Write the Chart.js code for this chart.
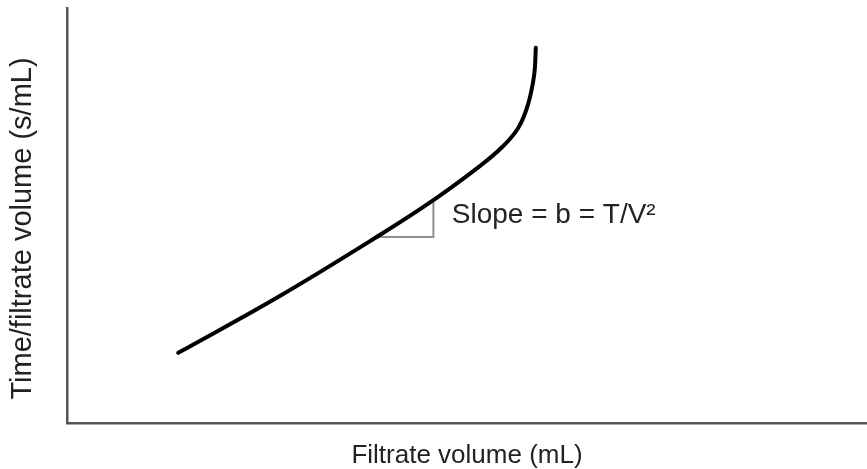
<!DOCTYPE html>
<html>
<head>
<meta charset="utf-8">
<title>Filtration plot</title>
<script src="https://cdn.jsdelivr.net/npm/chart.js@4.4.1/dist/chart.umd.min.js"></script>
<style>
  html, body { margin: 0; padding: 0; background: #fff; }
  #wrap { width: 867px; height: 469px; position: relative; }
</style>
</head>
<body>
<div id="wrap"><canvas id="chart"></canvas></div>
<script>
// t/V against V curve (arbitrary units, axes carry no ticks)
const volume = [1.39, 2.66, 3.91, 4.58, 5.16, 5.44, 5.64, 5.76, 5.84, 5.86]
const timePerVolume = [1.69, 3.06, 4.53, 5.37, 6.19, 6.65, 7.11, 7.66, 8.39, 9.04]

// slope triangle under the straight part
const triangleX = [3.91, 4.58, 4.58]
const triangleY = [4.48, 4.48, 5.37]

const slopeLabel = 'Slope = b = T/V\u00B2'
const slopeLabelAt = [4.81, 5.01]

const xTitle = 'Filtrate volume (mL)'
const yTitle = 'Time/filtrate volume (s/mL)'

const FONT = '"Liberation Sans", Arial, Helvetica, sans-serif'
const TEXT = '#222'

const toPoints = (xs, ys) => xs.map((x, i) => ({ x, y: ys[i] }))

// slope annotation next to the triangle, y axis title sits a bit below centre
const textPlugin = {
  id: 'plotText',
  afterDatasetsDraw(chart) {
    const { ctx, scales, chartArea } = chart
    const px = scales.x.getPixelForValue(slopeLabelAt[0])
    const py = scales.y.getPixelForValue(slopeLabelAt[1])
    ctx.save()
    ctx.fillStyle = TEXT
    ctx.font = '28px ' + FONT
    ctx.textAlign = 'left'
    ctx.textBaseline = 'middle'
    ctx.fillText(slopeLabel, px, py)

    ctx.translate(23, (chartArea.top + chartArea.bottom) / 2 + 13)
    ctx.rotate(-Math.PI / 2)
    ctx.font = '29px ' + FONT
    ctx.textAlign = 'center'
    ctx.fillText(yTitle, 0, 0)
    ctx.restore()
  }
}

const ctx = document.getElementById('chart').getContext('2d')
new Chart(ctx, {
  type: 'scatter',
  data: {
    datasets: [
      {
        data: toPoints(volume, timePerVolume),
        showLine: true,
        borderColor: '#000',
        borderWidth: 4,
        pointRadius: 0,
        tension: 0.4,
        borderCapStyle: 'round',
      },
      {
        data: toPoints(triangleX, triangleY),
        showLine: true,
        borderColor: '#8f8f8f',
        borderWidth: 2,
        pointRadius: 0,
        tension: 0,
      }
    ]
  },
  options: {
    responsive: true,
    maintainAspectRatio: false,
    animation: false,
    layout: { padding: { top: 8, right: 0, bottom: 0, left: 0 } },
    scales: {
      x: {
        min: 0,
        max: 10,
        grid: { display: false, drawTicks: false },
        border: { display: true, color: '#555', width: 2.5 },
        ticks: { display: false },
        title: {
          display: true,
          text: xTitle,
          color: TEXT,
          font: { family: FONT, size: 26, lineHeight: 1 },
          padding: { top: 20, bottom: 0 }
        }
      },
      y: {
        min: 0,
        max: 10,
        grid: { display: false, drawTicks: false },
        border: { display: true, color: '#555', width: 2.5 },
        ticks: { display: false },
        afterFit(scale) { scale.width = 67 }
      }
    },
    plugins: {
      legend: { display: false },
      tooltip: { enabled: false }
    }
  },
  plugins: [textPlugin]
})
</script>
</body>
</html>
